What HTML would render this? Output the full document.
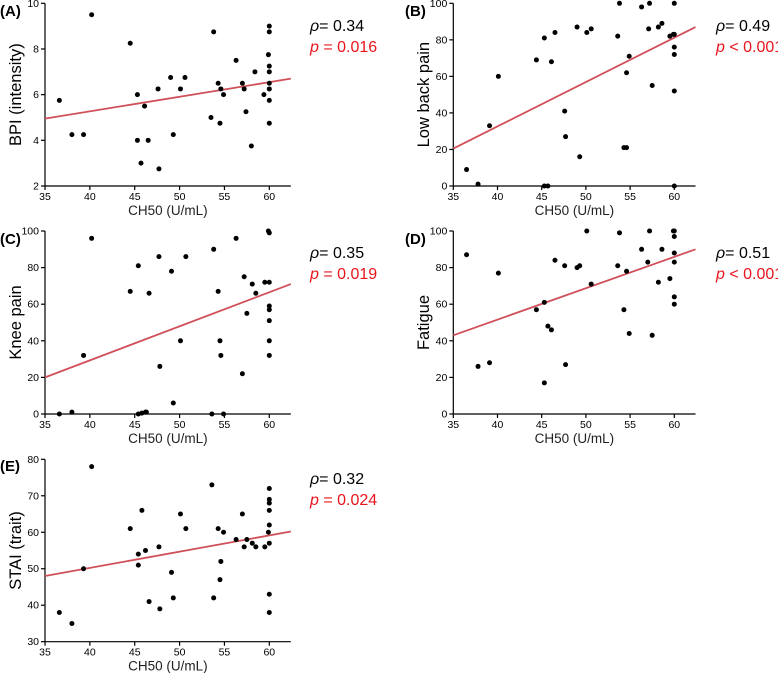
<!DOCTYPE html>
<html><head><meta charset="utf-8"><style>
body{margin:0;background:#fff;}
svg{display:block;font-family:"Liberation Sans",Arial,sans-serif;}
</style></head><body>
<svg id="chart" width="778" height="673" viewBox="0 0 778 673" xmlns="http://www.w3.org/2000/svg"></svg>
<script>
const xTicks=[35,40,45,50,55,60];
const aX=[36.6,38.0,39.3,40.2,44.5,45.3,45.3,45.7,46.1,46.5,47.6,47.7,49.0,49.3,50.1,50.6,53.5,53.8,54.3,54.5,54.6,54.9,56.3,57.0,57.2,57.4,58.0,58.4,59.4,60,60,59.9,60,60,60,60,60,60];
const aY=[5.75,4.25,4.25,9.5,8.25,6.0,4.0,3.0,5.5,4.0,6.25,2.75,6.75,4.25,6.25,6.75,5.0,8.75,6.5,4.75,6.25,6.0,7.5,6.5,6.25,5.25,3.75,7.0,6.0,9.0,8.75,7.75,7.25,7.0,6.5,6.25,5.75,4.75];
const aTicks=[2,4,6,8,10];
const aLine=[4.95,6.7];
const bX=[36.5,37.8,39.1,40.1,44.4,45.3,45.3,45.7,46.1,46.5,47.6,47.7,49.0,49.3,50.1,50.6,53.6,53.8,54.3,54.6,54.6,54.9,56.3,57.1,57.2,57.5,58.2,58.6,59.5,60,59.9,60,60,60,60,60];
const bY=[9,1,33,60,69,81,0,0,68,84,41,27,87,16,84,86,82,100,21,21,62,71,98,86,100,55,87,89,82,83,83,100,76,72,52,0];
const cX=[36.6,38.0,39.3,40.2,44.5,45.4,45.4,45.8,46.2,46.3,46.6,47.7,47.8,49.1,49.3,50.1,50.7,53.6,53.8,54.3,54.5,54.6,54.9,56.3,57.0,57.2,57.5,58.1,58.5,59.5,60,59.9,60,60,60,60,60,60];
const cY=[0,1,32,96,67,81,0,0.5,1,1,66,86,26,78,6,40,86,0,90,67,40,32,0,96,22,75,55,71,66,72,72,100,99,59,57,51,40,32];
const dX=[36.5,37.8,39.1,40.1,44.4,45.3,45.3,45.7,46.1,46.5,47.6,47.7,49.0,49.3,50.1,50.6,53.6,53.8,54.3,54.6,54.9,56.3,57.0,57.2,57.5,58.2,58.6,59.5,60,59.9,60,60,60,60,60];
const dY=[87,26,28,77,57,61,17,48,46,84,81,27,80,81,100,71,81,99,57,78,44,90,83,100,43,72,90,74,100,100,97,88,83,64,60];
const eX=[36.6,38.0,39.3,40.2,44.5,45.4,45.4,45.8,46.2,46.6,47.7,47.8,49.1,49.3,50.1,50.7,53.6,53.8,54.3,54.5,54.6,54.9,56.3,57.0,57.2,57.5,58.1,58.5,59.5,59.9,60,60,60,60,60,60,60,60];
const eY=[38,35,50,78,61,54,51,66,55,41,56,39,49,42,65,61,73,42,61,47,52,60,58,65,56,58,57,56,56,60,72,69,68,66,62,57,43,38];
const pctTicks=[0,20,40,60,80,100];
const eTicks=[30,40,50,60,70,80];
const bLine=[20.5,87],cLine=[20,71],dLine=[43,90],eLine=[48,60.2];

const svg=document.getElementById('chart');
const NS='http://www.w3.org/2000/svg';
function mk(tag,attrs,parent){const e=document.createElementNS(NS,tag);for(const k in attrs)e.setAttribute(k,attrs[k]);(parent||svg).appendChild(e);return e;}

function panel(p){
  const g=mk('g',{});
  
  
  const sx=v=>p.x0+(v-35)*(p.x60-p.x0)/25;
  const ymin=p.yt[0],ymax=p.yt[p.yt.length-1];
  const sy=v=>p.yb+(v-ymin)*(p.ytop-p.yb)/(ymax-ymin);
  const ax=mk('line',{x1:sx(35),y1:p.ytop,x2:sx(35),y2:p.yb,stroke:'#000','stroke-width':1.2},g);
  
  
  const xa=mk('line',{x1:sx(35),y1:p.yb,x2:sx(62.4),y2:p.yb,stroke:'#000','stroke-width':1.2},g);
  
  
  p.yt.forEach(t=>{
    mk('line',{x1:sx(35)-4,y1:sy(t),x2:sx(35),y2:sy(t),stroke:'#000','stroke-width':1.2},g);
    const tx=mk('text',{x:sx(35)-6,y:sy(t)+3.5,'text-anchor':'end','font-size':10.5},g);
    tx.textContent=t;
    
    
  });
  xTicks.forEach(t=>{
    mk('line',{x1:sx(t),y1:p.yb,x2:sx(t),y2:p.yb+4,stroke:'#000','stroke-width':1.2},g);
    const tx=mk('text',{x:sx(t),y:p.yb+14,'text-anchor':'middle','font-size':10.5},g);
    tx.textContent=t;
    
    
  });
  const xt=mk('text',{x:(sx(35)+sx(62.4))/2,y:p.yb+29,'text-anchor':'middle','font-size':13.5,fill:'#222'},g);
  xt.textContent='CH50 (U/mL)';
  
  
  const cy=(p.ytop+p.yb)/2;
  const yt=mk('text',{x:p.ytx,y:cy,'text-anchor':'middle','font-size':16.5,transform:`rotate(-90 ${p.ytx} ${cy})`},g);
  yt.textContent=p.ytitle;
  
  
  const lb=mk('text',{x:p.lx,y:p.ly,'font-size':15,'font-weight':'bold'},g);
  lb.textContent='('+p.id+')';
  
  
  const ln=mk('line',{x1:sx(35),y1:sy(p.line[0]),x2:sx(62.4),y2:sy(p.line[1]),stroke:'#d0505a','stroke-width':1.8},g);
  
  
  p.xs.forEach((v,i)=>{
    const c=mk('circle',{cx:sx(v),cy:sy(p.ys[i]),r:2.5,fill:'#000'},g);
    
    
  });
  const r=mk('text',{x:p.ax,y:p.ay,'font-size':16},g);
  r.innerHTML='<tspan font-style="italic">ρ</tspan>= '+p.rho;
  
  
  const pv=mk('text',{x:p.ax,y:p.ay+21,'font-size':16,fill:'#e8141c'},g);
  pv.innerHTML='<tspan font-style="italic">p</tspan> '+p.pv;
  
  
}
panel({id:'A',x0:45,x60:269.3,ytop:3.3,yb:186,yt:aTicks,xs:aX,ys:aY,line:aLine,ytitle:'BPI (intensity)',ytx:21,lx:0,ly:16,ax:310,ay:31,rho:'0.34',pv:'= 0.016'});
panel({id:'B',x0:453.3,x60:674.3,ytop:3.3,yb:186,yt:pctTicks,xs:bX,ys:bY,line:bLine,ytitle:'Low back pain',ytx:429,lx:405,ly:16,ax:716,ay:31,rho:'0.49',pv:'< 0.001'});
panel({id:'C',x0:45,x60:269.3,ytop:231,yb:414,yt:pctTicks,xs:cX,ys:cY,line:cLine,ytitle:'Knee pain',ytx:21,lx:0,ly:244,ax:310,ay:258,rho:'0.35',pv:'= 0.019'});
panel({id:'D',x0:453.3,x60:674.3,ytop:231,yb:414,yt:pctTicks,xs:dX,ys:dY,line:dLine,ytitle:'Fatigue',ytx:429,lx:405,ly:244,ax:716,ay:258,rho:'0.51',pv:'< 0.001'});
panel({id:'E',x0:45,x60:269.3,ytop:459.3,yb:641.7,yt:eTicks,xs:eX,ys:eY,line:eLine,ytitle:'STAI (trait)',ytx:21,lx:0,ly:471,ax:310,ay:484,rho:'0.32',pv:'= 0.024'});
</script>
</body></html>
